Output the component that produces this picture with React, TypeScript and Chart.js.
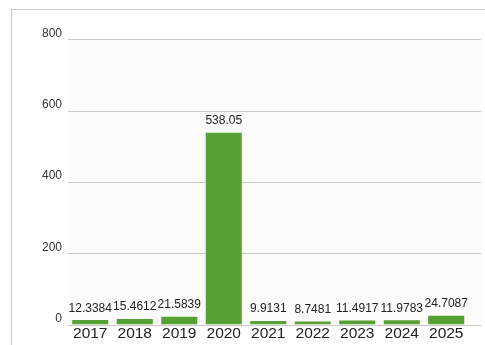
import React, { useEffect, useRef } from "react";
import { Chart, registerables } from "chart.js";

Chart.register(...registerables);

const categories = ["2017", "2018", "2019", "2020", "2021", "2022", "2023", "2024", "2025"];
const values = [12.3384, 15.4612, 21.5839, 538.05, 9.9131, 8.7481, 11.4917, 11.9783, 24.7087];
const valueLabels = ["12.3384", "15.4612", "21.5839", "538.05", "9.9131", "8.7481", "11.4917", "11.9783", "24.7087"];
const yTicks = [0, 200, 400, 600, 800];

const FONT = "Arial, 'Liberation Sans', sans-serif";

const bgGridPlugin = {
  id: "bgGrid",
  beforeDraw(chart: any) {
    const { ctx, chartArea } = chart;
    const y = chart.scales.y;
    const right = chartArea.right + 12.5;
    ctx.save();
    ctx.fillStyle = "#fcfcfc";
    ctx.fillRect(chartArea.left, chartArea.top, right - chartArea.left, chartArea.bottom - chartArea.top);
    ctx.strokeStyle = "#c8c8c8";
    ctx.lineWidth = 1;
    for (const t of yTicks) {
      const py = Math.round(y.getPixelForValue(t)) + 0.5;
      ctx.beginPath();
      ctx.moveTo(chartArea.left, py);
      ctx.lineTo(right, py);
      ctx.stroke();
    }
    ctx.restore();
  },
};

const labelPlugin = {
  id: "valueLabels",
  afterDatasetsDraw(chart: any) {
    const { ctx } = chart;
    const meta = chart.getDatasetMeta(0);
    ctx.save();
    ctx.font = `12px ${FONT}`;
    ctx.fillStyle = "#222";
    ctx.textAlign = "center";
    ctx.textBaseline = "alphabetic";
    meta.data.forEach((bar: any, i: number) => {
      ctx.fillText(valueLabels[i], bar.x, bar.y - 8.5);
    });
    ctx.restore();
  },
};

export default function App() {
  const ref = useRef<HTMLCanvasElement | null>(null);
  useEffect(() => {
    if (!ref.current) return;
    const chart = new Chart(ref.current, {
      type: "bar",
      data: {
        labels: categories,
        datasets: [
          {
            data: values,
            backgroundColor: "#57a033",
            borderWidth: 0,
            categoryPercentage: 0.81,
            barPercentage: 1,
          },
        ],
      },
      options: {
        responsive: false,
        animation: false,
        layout: { padding: { left: 0, right: 16.5, top: 39.3, bottom: 0 } },
        plugins: { legend: { display: false }, tooltip: { enabled: false } },
        scales: {
          x: {
            grid: { display: false, drawTicks: false },
            border: { display: false },
            ticks: { font: { size: 15.5, family: FONT }, color: "#222", padding: 0, maxRotation: 0, autoSkip: false },
            afterFit(scale: any) {
              scale.height = 20.5;
            },
          },
          y: {
            min: 0,
            max: 800,
            afterBuildTicks(scale: any) {
              scale.ticks = yTicks.map((v) => ({ value: v }));
            },
            grid: { display: false, drawTicks: false },
            border: { display: false },
            ticks: { font: { size: 12, family: FONT }, color: "#333", padding: 6, labelOffset: -6 },
            afterFit(scale: any) {
              scale.width = 68;
            },
          },
        },
      },
      plugins: [bgGridPlugin, labelPlugin],
    });
    return () => chart.destroy();
  }, []);

  return (
    <div style={{ position: "fixed", left: 0, top: 0, width: 485, height: 345, overflow: "hidden", background: "#fff" }}>
      <div
        style={{
          position: "absolute",
          left: 11,
          top: 9,
          width: 520,
          height: 400,
          border: "1px solid #c8c8c8",
          boxSizing: "border-box",
        }}
      />
      <canvas ref={ref} width={485} height={345} style={{ position: "absolute", left: 0, top: 0 }} />
    </div>
  );
}
